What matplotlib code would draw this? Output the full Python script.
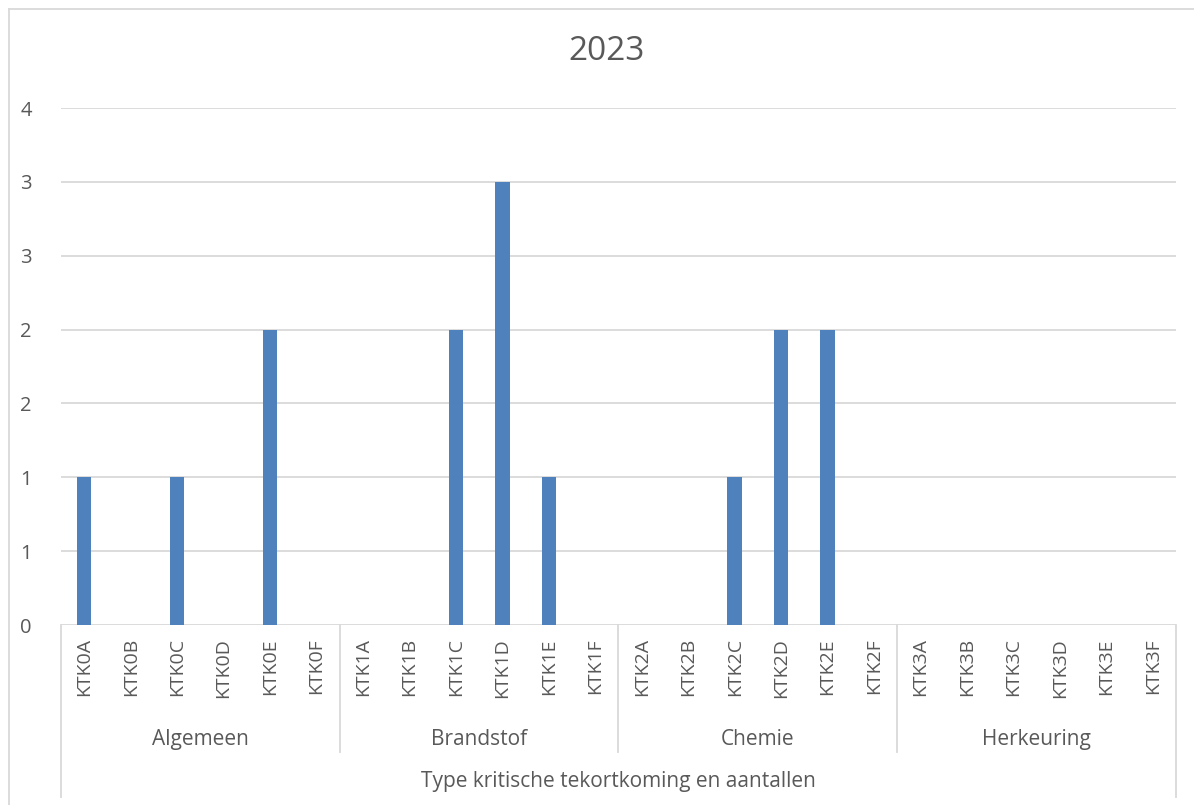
import matplotlib
matplotlib.use("Agg")
import matplotlib.pyplot as plt
from matplotlib.lines import Line2D
import matplotlib.transforms as mtransforms

plt.rcParams['font.family'] = ['Open Sans', 'DejaVu Sans']

groups = ["Algemeen", "Brandstof", "Chemie", "Herkeuring"]
categories = [
    "KTK0A", "KTK0B", "KTK0C", "KTK0D", "KTK0E", "KTK0F",
    "KTK1A", "KTK1B", "KTK1C", "KTK1D", "KTK1E", "KTK1F",
    "KTK2A", "KTK2B", "KTK2C", "KTK2D", "KTK2E", "KTK2F",
    "KTK3A", "KTK3B", "KTK3C", "KTK3D", "KTK3E", "KTK3F",
]
values = [1, 0, 1, 0, 2, 0,
          0, 0, 2, 3, 1, 0,
          0, 0, 1, 2, 2, 0,
          0, 0, 0, 0, 0, 0]
y_ticks = [0, 0.5, 1.0, 1.5, 2.0, 2.5, 3.0, 3.5]
y_tick_labels = ["0", "1", "1", "2", "2", "3", "3", "4"]
title = "2023"
x_title = "Type kritische tekortkoming en aantallen"

W, H = 1194, 805
fig = plt.figure(figsize=(W / 100, H / 100), dpi=100)
ax_left, ax_right, ax_top, ax_bot = 61, 1176, 108, 625
ax = fig.add_axes([ax_left / W, 1 - ax_bot / H, (ax_right - ax_left) / W, (ax_bot - ax_top) / H])

text_color = "#595959"
grid_color = "#D9D9D9"
bar_color = "#4F81BD"

x = list(range(len(categories)))
ax.bar(x, values, width=0.31, color=bar_color, zorder=3)
ax.set_xlim(-0.5, len(categories) - 0.5)
ax.set_ylim(0, 3.5)
ax.set_yticks(y_ticks)
ax.set_yticklabels(y_tick_labels, fontsize=14.5, color=text_color)
ax.tick_params(axis='y', length=0, pad=21)
ax.set_xticks([])
for y in y_ticks:
    ax.axhline(y, color=grid_color, lw=1.3, zorder=1)
for s in ax.spines.values():
    s.set_visible(False)

axh = ax_bot - ax_top
trans = mtransforms.blended_transform_factory(ax.transData, ax.transAxes)
def ypx(p):
    return (ax_bot - p) / axh

for i, c in enumerate(categories):
    ax.text(i, ypx(638), c, rotation=90, ha='center', va='top', fontsize=14,
            color=text_color, transform=trans, clip_on=False)

n_per = len(categories) // len(groups)
for g, name in enumerate(groups):
    cx = g * n_per + (n_per - 1) / 2
    ax.text(cx, ypx(739), name, ha='center', va='center', fontsize=15,
            color=text_color, transform=trans, clip_on=False)

# separator lines
bounds = [g * n_per - 0.5 for g in range(len(groups) + 1)]
for i, b in enumerate(bounds):
    end = 797 if i in (0, len(bounds) - 1) else 752
    ax.plot([b, b], [0, ypx(end)], color=grid_color, lw=1.3, transform=trans, clip_on=False)

ax.text(0.5, ypx(781), x_title, ha='center', va='center', fontsize=15,
        color=text_color, transform=ax.transAxes, clip_on=False)

fig.text(607 / W, 1 - 52 / H, title, ha='center', va='center', fontsize=24, color=text_color)

# chart border
fig.add_artist(Line2D([9 / W, 9 / W], [0, 1 - 9 / H], color=grid_color, lw=1.3))
fig.add_artist(Line2D([9 / W, 1], [1 - 9 / H, 1 - 9 / H], color=grid_color, lw=1.3))

fig.savefig("out.png", dpi=100)
